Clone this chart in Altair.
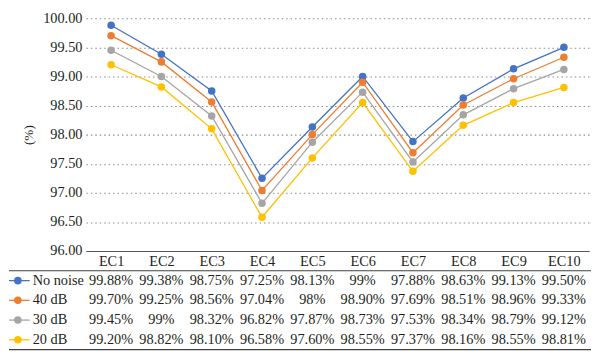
import altair as alt
import pandas as pd

categories = ["EC1", "EC2", "EC3", "EC4", "EC5", "EC6", "EC7", "EC8", "EC9", "EC10"]
series_names = ["No noise", "40 dB", "30 dB", "20 dB"]
no_noise = [99.88, 99.38, 98.75, 97.25, 98.13, 99.00, 97.88, 98.63, 99.13, 99.50]
db40 = [99.70, 99.25, 98.56, 97.04, 98.00, 98.90, 97.69, 98.51, 98.96, 99.33]
db30 = [99.45, 99.00, 98.32, 96.82, 97.87, 98.73, 97.53, 98.34, 98.79, 99.12]
db20 = [99.20, 98.82, 98.10, 96.58, 97.60, 98.55, 97.37, 98.16, 98.55, 98.81]
colors = ["#4472C4", "#ED7D31", "#A5A5A5", "#FFC000"]
y_ticks = [96.0, 96.5, 97.0, 97.5, 98.0, 98.5, 99.0, 99.5, 100.0]


def fmt(v):
    return f"{int(round(v))}%" if abs(v - round(v)) < 1e-9 else f"{v:.2f}%"


rows = []
for s, vals in zip(series_names, [no_noise, db40, db30, db20]):
    for c, v in zip(categories, vals):
        rows.append({"cat": c, "series": s, "value": v, "label": fmt(v)})
df = pd.DataFrame(rows)
legend_df = pd.DataFrame({"series": series_names})
one = pd.DataFrame({"k": [0]})

FONT = "Liberation Serif"
TXT = "#231f20"
FS = 14.5
W = 510
H = 236
TH = 80

color = alt.Color("series:N", scale=alt.Scale(domain=series_names, range=colors), legend=None)

xenc = alt.X("cat:N", sort=categories,
             axis=alt.Axis(title=None, labelAngle=0, ticks=False, domainColor="#595959",
                           domainWidth=1.2, labelPadding=4, labelFontSize=FS, labelFont=FONT,
                           labelColor=TXT, grid=False))
yenc = alt.Y("value:Q", scale=alt.Scale(domain=[96, 100], nice=False, zero=False),
             axis=alt.Axis(values=y_ticks, format=".2f", title="(%)", domain=False, ticks=False,
                           labelPadding=4, grid=True, gridDash=[1.5, 3], gridColor="#8a8a8a",
                           gridWidth=1.1, titleFontWeight="normal", titleFontSize=13.5,
                           titleFont=FONT, titleColor=TXT, titlePadding=7,
                           labelFontSize=FS, labelFont=FONT, labelColor=TXT))

lines = alt.Chart(df).mark_line(strokeWidth=1.3).encode(x=xenc, y=yenc, color=color)
points = alt.Chart(df).mark_point(filled=True, size=58, opacity=1).encode(x=xenc, y=yenc, color=color)
top = alt.layer(lines, points).properties(width=W, height=H)

tx = alt.X("cat:N", sort=categories, axis=None)
ty = alt.Y("series:N", sort=series_names, axis=None)
texts = alt.Chart(df).mark_text(fontSize=FS, font=FONT, color=TXT).encode(x=tx, y=ty, text="label:N")
names = alt.Chart(legend_df).mark_text(align="left", fontSize=FS, font=FONT, color=TXT).encode(
    x=alt.value(-54), y=ty, text="series:N")
keylines = alt.Chart(legend_df).mark_rule(strokeWidth=1.3).encode(
    x=alt.value(-78), x2=alt.value(-57), y=ty, color=color)
keydots = alt.Chart(legend_df).mark_point(filled=True, size=58, opacity=1).encode(
    x=alt.value(-69), y=ty, color=color)
toprule = alt.Chart(one).mark_rule(color="#404040", strokeWidth=1.2).encode(
    x=alt.value(-78), x2=alt.value(W + 2), y=alt.value(0))
botrule = alt.Chart(one).mark_rule(color="#404040", strokeWidth=1.2).encode(
    x=alt.value(-78), x2=alt.value(W + 2), y=alt.value(TH))
table = alt.layer(toprule, botrule, keylines, keydots, names, texts).properties(width=W, height=TH)

chart = (
    alt.vconcat(top, table, spacing=1)
    .properties(padding=0)
    .configure_view(stroke=None)
)

chart.save("out.html", embed_options={"renderer": "svg", "actions": False})
